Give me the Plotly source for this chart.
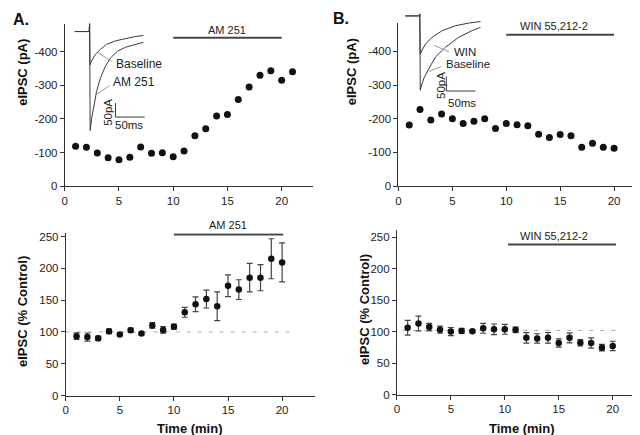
import plotly.graph_objects as go

# ---------------- data ----------------
time_top_a = list(range(1, 22))
eipsc_am251 = [-119, -116, -99, -85, -79, -86, -117, -98, -100, -88, -105,
               -150, -171, -209, -213, -258, -295, -330, -343, -315, -340]

time_top_b = list(range(1, 21))
eipsc_win = [-181, -227, -196, -214, -200, -186, -192, -200, -171, -186,
             -182, -179, -154, -144, -153, -149, -115, -127, -115, -112]

time_pct = list(range(1, 21))
pct_am251 = [93.4, 91.9, 89.9, 101.0, 96.0, 102.6, 97.5, 110.3, 103.2, 108.3,
             130.8, 143.5, 151.6, 140.4, 172.6, 166.5, 185.3, 185.3, 215.0, 209.3]
sem_am251 = [5.0, 6.4, 3.5, 3.5, 2.0, 3.5, 2.0, 4.5, 5.0, 4.0,
             7.7, 11.5, 14.0, 22.7, 17.0, 15.5, 22.4, 20.6, 31.4, 30.6]

pct_win = [106.3, 113.0, 107.3, 103.2, 100.1, 101.1, 100.6, 105.3, 103.7, 103.7,
           102.9, 90.2, 89.2, 90.2, 82.0, 90.2, 82.4, 82.0, 74.6, 77.3]
sem_win = [11.7, 11.7, 6.0, 5.7, 6.5, 4.0, 2.0, 7.8, 8.5, 7.8,
           4.4, 8.3, 7.5, 8.5, 6.5, 8.0, 5.2, 8.0, 5.2, 7.5]

drug_period = [10, 20]

x_ticks = [0, 5, 10, 15, 20]
y_ticks_pa = [0, -100, -200, -300, -400]
y_ticklabels_pa = ["0", "-100", "-200", "-300", "-400"]
y_ticks_pct = [0, 50, 100, 150, 200, 250]

# inset sample traces (time in ms, current in pA)
inset_a_t_base = [0, 24.7, 25.6, 26.1, 30.7, 35.8, 44.4, 54.6, 70.0, 87.0, 104.1, 117.7]
inset_a_i_base = [0, 0, 28, -118.9, -97.9, -80.4, -62.9, -45.5, -33.2, -24.5, -17.5, -14.0]
inset_a_t_drug = [0, 24.7, 25.6, 26.5, 29.0, 32.9, 37.5, 44.4, 52.9, 61.4, 73.4, 87.0, 104.1, 117.7]
inset_a_i_drug = [0, 0, 28, -353, -311.2, -258.7, -213.3, -164.3, -122.4, -94.4, -69.9, -55.9, -45.5, -38.5]

inset_b_t_drug = [0, 24.4, 25.1, 25.9, 29.0, 35.3, 46.6, 63.7, 86.5, 109.2, 129.2]
inset_b_i_drug = [0, 0, 6.7, -130, -116.7, -94.3, -72.3, -50, -33.3, -24.3, -19]
inset_b_t_base = [0, 24.4, 25.1, 25.9, 29.0, 32.4, 41.0, 52.4, 69.5, 92.2, 114.8, 129.2]
inset_b_i_base = [0, 0, 6.7, -253.3, -230, -211, -177.7, -139, -105.7, -72.3, -50, -39]

scale_ms = 50
scale_pa = 50

# ---------------- styling ----------------
FONT = "Arial, Liberation Sans, Helvetica, sans-serif"
AX = "#333333"
TRACE = "#3a3a3a"
W, H = 640, 435


def px_dom_x(a, b):
    return [a / W, b / W]


def px_dom_y(top, bottom):
    return [1 - bottom / H, 1 - top / H]


fig = go.Figure()

# main scatter data
fig.add_trace(go.Scatter(x=time_top_a, y=eipsc_am251, mode="markers",
                         marker=dict(color="#111", size=7), xaxis="x", yaxis="y"))
fig.add_trace(go.Scatter(x=time_top_b, y=eipsc_win, mode="markers",
                         marker=dict(color="#111", size=7), xaxis="x2", yaxis="y2"))

err_style = dict(type="data", thickness=1.2, width=3, color="#444")
fig.add_trace(go.Scatter(x=[0, 20.7], y=[100, 100], mode="lines",
                         line=dict(color="#aaaaaa", width=1, dash="4px,7px"),
                         xaxis="x3", yaxis="y3"))
fig.add_trace(go.Scatter(x=time_pct, y=pct_am251, mode="markers",
                         error_y=dict(array=sem_am251, **err_style),
                         marker=dict(color="#111", size=6.5), xaxis="x3", yaxis="y3"))
fig.add_trace(go.Scatter(x=[0.5, 20.8], y=[102, 102], mode="lines",
                         line=dict(color="#aaaaaa", width=1, dash="4px,7px"),
                         xaxis="x4", yaxis="y4"))
fig.add_trace(go.Scatter(x=time_pct, y=pct_win, mode="markers",
                         error_y=dict(array=sem_win, **err_style),
                         marker=dict(color="#111", size=6.5), xaxis="x4", yaxis="y4"))

# drug application bars
bar_line = dict(color="#444", width=2)
fig.add_trace(go.Scatter(x=drug_period, y=[-441, -441], mode="lines", line=bar_line,
                         xaxis="x", yaxis="y"))
fig.add_trace(go.Scatter(x=drug_period, y=[-449, -449], mode="lines", line=bar_line,
                         xaxis="x2", yaxis="y2"))
fig.add_trace(go.Scatter(x=[10, 20.1], y=[253, 253], mode="lines", line=bar_line,
                         xaxis="x3", yaxis="y3"))
fig.add_trace(go.Scatter(x=[10.3, 20.3], y=[238.6, 238.6], mode="lines", line=bar_line,
                         xaxis="x4", yaxis="y4"))

# inset traces
tl = dict(color=TRACE, width=1)
gl = dict(color="#999999", width=1)
fig.add_trace(go.Scatter(x=inset_a_t_drug, y=inset_a_i_drug, mode="lines", line=tl,
                         xaxis="x5", yaxis="y5"))
fig.add_trace(go.Scatter(x=inset_a_t_base, y=inset_a_i_base, mode="lines", line=tl,
                         xaxis="x5", yaxis="y5"))
fig.add_trace(go.Scatter(x=[39.8, 64.3], y=[-75.9, -107.3], mode="lines", line=gl,
                         xaxis="x5", yaxis="y5"))
fig.add_trace(go.Scatter(x=[37.5, 60.2], y=[-223.8, -192.3], mode="lines", line=gl,
                         xaxis="x5", yaxis="y5"))
fig.add_trace(go.Scatter(x=[70, 70, 70 + scale_ms], y=[-255.2, -255.2 - scale_pa, -255.2 - scale_pa],
                         mode="lines", line=dict(color=TRACE, width=1), xaxis="x5", yaxis="y5"))

fig.add_trace(go.Scatter(x=inset_b_t_base, y=inset_b_i_base, mode="lines", line=tl,
                         xaxis="x6", yaxis="y6"))
fig.add_trace(go.Scatter(x=inset_b_t_drug, y=inset_b_i_drug, mode="lines", line=tl,
                         xaxis="x6", yaxis="y6"))
fig.add_trace(go.Scatter(x=[49.5, 75.1], y=[-100, -122.3], mode="lines", line=gl,
                         xaxis="x6", yaxis="y6"))
fig.add_trace(go.Scatter(x=[41.0, 62.1], y=[-189, -172.3], mode="lines", line=gl,
                         xaxis="x6", yaxis="y6"))
fig.add_trace(go.Scatter(x=[70.5, 70.5, 70.5 + scale_ms], y=[-205.7, -205.7 - scale_pa, -205.7 - scale_pa],
                         mode="lines", line=dict(color=TRACE, width=1), xaxis="x6", yaxis="y6"))

tick_font = dict(family=FONT, size=11.5, color="#222")
common_x = dict(showline=True, linecolor=AX, linewidth=1, ticks="outside", ticklen=4,
                tickcolor=AX, tickwidth=1, showgrid=False, zeroline=False,
                tickvals=x_ticks, tickfont=tick_font)
common_y = dict(showline=True, linecolor=AX, linewidth=1, ticks="outside", ticklen=4,
                tickcolor=AX, tickwidth=1, showgrid=False, zeroline=False,
                tickfont=tick_font)

fig.update_layout(
    width=W, height=H, margin=dict(l=0, r=0, t=0, b=0),
    paper_bgcolor="white", plot_bgcolor="rgba(0,0,0,0)",
    showlegend=False, font=dict(family=FONT, color="#222"),
    xaxis=dict(domain=px_dom_x(54, 303), range=[0, 22.85], anchor="y", **common_x),
    yaxis=dict(domain=px_dom_y(13, 179), range=[0, -483], anchor="x",
               tickvals=y_ticks_pa, ticktext=y_ticklabels_pa, **common_y),
    xaxis2=dict(domain=px_dom_x(389.3, 633), range=[0, 22.5], anchor="y2", **common_x),
    yaxis2=dict(domain=px_dom_y(12, 178.7), range=[0, -485], anchor="x2",
                tickvals=y_ticks_pa, ticktext=y_ticklabels_pa, **common_y),
    xaxis3=dict(domain=px_dom_x(55, 305), range=[0, 23.0], anchor="y3", **common_x),
    yaxis3=dict(domain=px_dom_y(227, 392.7), range=[0, 255], anchor="x3",
                tickvals=y_ticks_pct, **common_y),
    xaxis4=dict(domain=px_dom_x(387.7, 636), range=[0, 22.9], anchor="y4", **common_x),
    yaxis4=dict(domain=px_dom_y(224, 391.7), range=[0, 261], anchor="x4",
                tickvals=y_ticks_pct, **common_y),
    xaxis5=dict(domain=px_dom_x(60, 145), range=[-6.83, 138.2], anchor="y5", visible=False),
    yaxis5=dict(domain=px_dom_y(0, 130), range=[-381.1, 73.4], anchor="x5", visible=False),
    xaxis6=dict(domain=px_dom_x(392, 480), range=[-6.83, 143.3], anchor="y6", visible=False),
    yaxis6=dict(domain=px_dom_y(0, 130), range=[-416.7, 16.7], anchor="x6", visible=False),
)

ann = []


def add_text(text, x, y, xref="paper", yref="paper", size=11, bold=False, angle=0,
             xanchor="center", yanchor="middle", color="#222"):
    t = f"<b>{text}</b>" if bold else text
    ann.append(dict(text=t, x=x, y=y, xref=xref, yref=yref, showarrow=False,
                    textangle=angle, xanchor=xanchor, yanchor=yanchor,
                    font=dict(family=FONT, size=size, color=color)))


# panel labels
add_text("A.", 0.5 / W, 1 - 9 / H, size=16, bold=True, xanchor="left", color="#111")
add_text("B.", 322 / W, 1 - 8 / H, size=16, bold=True, xanchor="left", color="#111")

# axis titles
add_text("eIPSC (pA)", 11.7 / W, 1 - 62.5 / H, size=13, bold=True, angle=-90, color="#111")
add_text("eIPSC (pA)", 341.7 / W, 1 - 62.5 / H, size=13, bold=True, angle=-90, color="#111")
add_text("eIPSC (% Control)", 11.7 / W, 1 - 306.7 / H, size=13, bold=True, angle=-90, color="#111")
add_text("eIPSC (% Control)", 355 / W, 1 - 305 / H, size=13, bold=True, angle=-90, color="#111")
add_text("Time (min)", 180 / W, 1 - 426.5 / H, size=13, bold=True, color="#111")
add_text("Time (min)", 513.3 / W, 1 - 426 / H, size=13, bold=True, color="#111")

# drug labels
add_text("AM 251", 15, -465, xref="x", yref="y", size=11)
add_text("WIN 55,212-2", 14.4, -474, xref="x2", yref="y2", size=11)
add_text("AM 251", 15, 1.05, xref="x3", yref="y3 domain", size=11)
add_text("WIN 55,212-2", 14.6, 251.5, xref="x4", yref="y4", size=11)

# inset labels
add_text("Baseline", 67, -116.4, xref="x5", yref="y5", size=12, xanchor="left")
add_text("AM 251", 61.4, -181.8, xref="x5", yref="y5", size=12, xanchor="left")
add_text("50pA", 57.2, -290, xref="x5", yref="y5", size=11.5, angle=-90)
add_text("50ms", 92.7, -332, xref="x5", yref="y5", size=11.5)

add_text("WIN", 80.7, -122.5, xref="x6", yref="y6", size=11.5, xanchor="left")
add_text("Baseline", 66.6, -164.5, xref="x6", yref="y6", size=11.5, xanchor="left")
add_text("50pA", 62.3, -236.7, xref="x6", yref="y6", size=11.5, angle=-90)
add_text("50ms", 97.8, -297.7, xref="x6", yref="y6", size=11.5)

fig.update_layout(annotations=ann)

fig.write_html("out.html")
